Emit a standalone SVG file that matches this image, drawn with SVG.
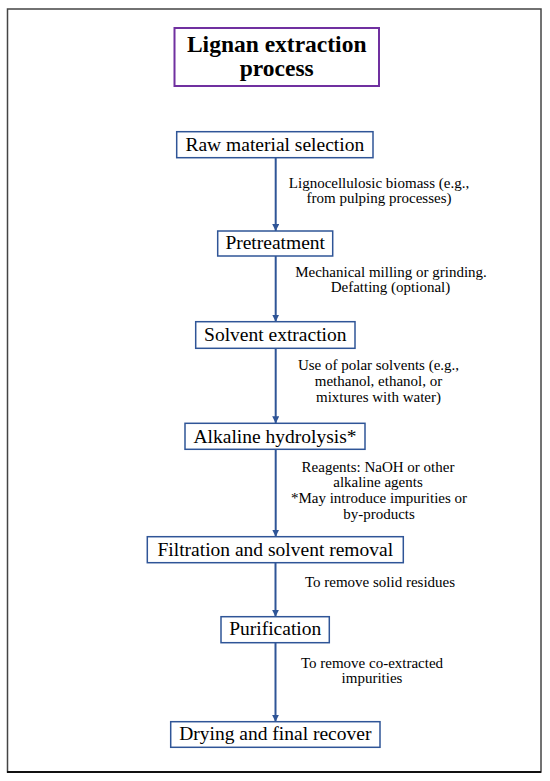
<svg xmlns="http://www.w3.org/2000/svg" width="550" height="781" viewBox="0 0 550 781">
<style>
.box{fill:#fff;stroke:#2F5597;stroke-width:1.5}
text{font-family:'Liberation Serif','DejaVu Serif',serif;fill:#000;text-anchor:middle}
.node{font-size:19.5px}
.lbl{font-size:15px}
.title{font-size:23.5px;font-weight:bold}
.edge{stroke:#2F5597;stroke-width:2;fill:none;marker-end:url(#arr)}
</style>
<defs>
<marker id="arr" viewBox="0 0 10 10" refX="10" refY="5" markerWidth="3.5" markerHeight="3.5" orient="auto" markerUnits="strokeWidth">
<path d="M0,0 L10,5 L0,10 z" fill="#2F5597"/>
</marker>
</defs>
<rect x="0" y="0" width="550" height="781" fill="#fff"/>
<rect x="7.5" y="9" width="533.5" height="763" fill="none" stroke="#444" stroke-width="1.5"/>
<line x1="7" y1="772" x2="541" y2="772" stroke="#111" stroke-width="2"/>
<g id="title" font-family="Liberation Serif, serif">
<rect x="174.5" y="28" width="204.5" height="58" fill="#fff" stroke="#7030A0" stroke-width="2"/>
<text class="title" x="276.7" y="52">Lignan extraction</text>
<text class="title" x="276.7" y="76">process</text>
</g>
<g id="connectors">
<line class="edge" x1="275.7" y1="158" x2="275.7" y2="231"/>
<line class="edge" x1="275.7" y1="256" x2="275.7" y2="321.7"/>
<line class="edge" x1="275.7" y1="348.3" x2="275.7" y2="423.3"/>
<line class="edge" x1="275.7" y1="449.3" x2="275.7" y2="536.7"/>
<line class="edge" x1="275.5" y1="562.7" x2="275.5" y2="616.7"/>
<line class="edge" x1="275.5" y1="642.7" x2="275.5" y2="721.7"/>
<text class="lbl" x="379" y="188">Lignocellulosic biomass (e.g.,</text>
<text class="lbl" x="379" y="203">from pulping processes)</text>
<text class="lbl" x="391" y="276.7">Mechanical milling or grinding.</text>
<text class="lbl" x="390.5" y="291.7">Defatting (optional)</text>
<text class="lbl" x="378.5" y="370">Use of polar solvents (e.g.,</text>
<text class="lbl" x="378.5" y="385.5">methanol, ethanol, or</text>
<text class="lbl" x="378.5" y="401.5">mixtures with water)</text>
<text class="lbl" x="378" y="471.7">Reagents: NaOH or other</text>
<text class="lbl" x="378" y="487">alkaline agents</text>
<text class="lbl" x="379" y="503.3">*May introduce impurities or</text>
<text class="lbl" x="379" y="518.5">by-products</text>
<text class="lbl" x="380" y="586.7">To remove solid residues</text>
<text class="lbl" x="372" y="668.3">To remove co-extracted</text>
<text class="lbl" x="372" y="683">impurities</text>
</g>
<g id="n1"><rect class="box" x="176.7" y="131.7" width="196.3" height="26"/><text class="node" x="274.8" y="150.7">Raw material selection</text></g>
<g id="n2"><rect class="box" x="217.7" y="231" width="115" height="25"/><text class="node" x="275.2" y="248.5">Pretreatment</text></g>
<g id="n3"><rect class="box" x="195.7" y="321.7" width="159.3" height="26.6"/><text class="node" x="275.3" y="341.3">Solvent extraction</text></g>
<g id="n4"><rect class="box" x="185" y="423.3" width="180" height="26"/><text class="node" x="275" y="442.7">Alkaline hydrolysis*</text></g>
<g id="n5"><rect class="box" x="147.3" y="536.7" width="256" height="26"/><text class="node" x="275.3" y="555.7">Filtration and solvent removal</text></g>
<g id="n6"><rect class="box" x="221" y="616.7" width="108.3" height="26"/><text class="node" x="275.2" y="635.3">Purification</text></g>
<g id="n7"><rect class="box" x="170.7" y="721.7" width="209.3" height="25.6"/><text class="node" x="275.3" y="739.5">Drying and final recover</text></g>
</svg>
